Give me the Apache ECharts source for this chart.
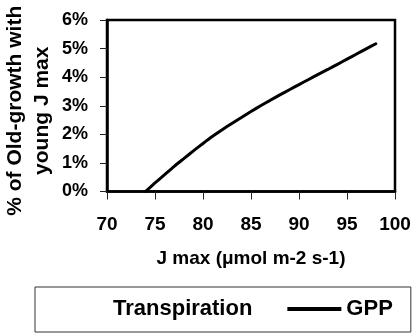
<!DOCTYPE html>
<html>
<head>
<meta charset="utf-8">
<script src="https://cdn.jsdelivr.net/npm/echarts@6/dist/echarts.min.js"></script>
<style>
  html, body { margin: 0; padding: 0; background: #fff; }
  #chart { width: 412px; height: 333px; }
</style>
</head>
<body>
<div id="chart"></div>
<script>
// J max values (µmol m-2 s-1) and GPP change relative to old-growth (%)
var jmax = [74, 75, 76, 77, 78, 79, 80, 81, 82, 83, 84, 85, 86, 87, 88, 89, 90, 91, 92, 93, 94, 95, 96, 97, 98];
var gppPct = [0, 0.30, 0.59, 0.88, 1.15, 1.42, 1.68, 1.93, 2.16, 2.38, 2.59, 2.80, 3.00, 3.19, 3.38, 3.56, 3.74, 3.92, 4.10, 4.27, 4.45, 4.63, 4.81, 4.99, 5.17];
var transpirationPct = [];

var seriesNames = ['Transpiration', 'GPP'];
var xTitle = 'J max (\u03bcmol m-2 s-1)';
var yTitle = '% of Old-growth with\nyoung J max';

var FONT = '"Liberation Sans", Arial, sans-serif';

var chart = echarts.init(document.getElementById('chart'), null, { renderer: 'canvas' });

chart.setOption({
  animation: false,
  backgroundColor: '#fff',
  grid: {
    left: 107, right: 17, top: 20, bottom: 141.5,
    containLabel: false, outerBoundsMode: 'none',
    show: true, borderColor: '#000', borderWidth: 2.5, backgroundColor: 'transparent'
  },
  xAxis: {
    type: 'value', min: 70, max: 100, interval: 5,
    name: xTitle, nameLocation: 'middle', nameGap: 58, nameMoveOverlap: false,
    nameTextStyle: { fontFamily: FONT, fontWeight: 'bold', fontSize: 19, color: '#000' },
    axisLine: { show: true, lineStyle: { color: '#000', width: 2.5 } },
    axisTick: { show: true, length: 8, lineStyle: { color: '#222', width: 1 } },
    axisLabel: { margin: 24, fontFamily: FONT, fontWeight: 'bold', fontSize: 19, color: '#000' },
    splitLine: { show: false }
  },
  yAxis: {
    type: 'value', min: 0, max: 6, interval: 1,
    name: yTitle, nameLocation: 'middle', nameGap: 51, nameMoveOverlap: false,
    nameTextStyle: { fontFamily: FONT, fontWeight: 'bold', fontSize: 21, color: '#000', lineHeight: 27, padding: [0, 10, 0, 0] },
    axisLine: { show: true, lineStyle: { color: '#000', width: 2.5 } },
    axisTick: { show: true, length: 7, lineStyle: { color: '#222', width: 1 } },
    axisLabel: { margin: 19, formatter: '{value}%', fontFamily: FONT, fontWeight: 'bold', fontSize: 18, color: '#000' },
    splitLine: { show: false }
  },
  legend: {
    left: 35, top: 287,
    data: seriesNames,
    icon: 'rect', itemWidth: 54, itemHeight: 4, itemGap: 35,
    padding: [11, 18, 12, 19],
    borderColor: '#333', borderWidth: 1,
    textStyle: { fontFamily: FONT, fontWeight: 'bold', fontSize: 22, color: '#000' }
  },
  series: [
    {
      name: seriesNames[0], type: 'line', symbol: 'none',
      color: '#fff', lineStyle: { color: '#fff', width: 3 },
      data: transpirationPct
    },
    {
      name: seriesNames[1], type: 'line', symbol: 'none', smooth: 0.2,
      color: '#000', lineStyle: { color: '#000', width: 3, cap: 'round' },
      data: jmax.map(function (j, i) { return [j, gppPct[i]]; })
    }
  ]
});
</script>
</body>
</html>
